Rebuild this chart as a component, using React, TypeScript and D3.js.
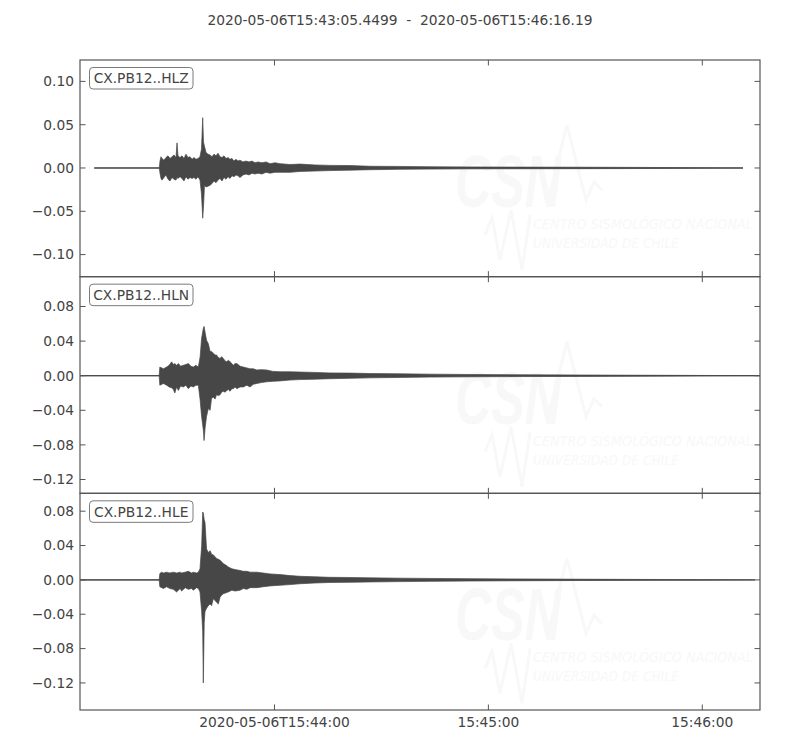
import React from 'react';
import * as d3 from 'd3';

// ---- data (seconds after 2020-05-06T15:43:05.4499) ----
const START_ISO = '2020-05-06T15:43:05.4499Z';
const END_ISO = '2020-05-06T15:46:16.19Z';
const TITLE = '2020-05-06T15:43:05.4499  -  2020-05-06T15:46:16.19';
const CHANNELS = ['CX.PB12..HLZ', 'CX.PB12..HLN', 'CX.PB12..HLE'];
const Y_LIMITS: [number, number][] = [[-0.1255, 0.1247], [-0.136, 0.1145], [-0.1515, 0.1008]];
const Y_TICKS = [
  [-0.1, -0.05, 0, 0.05, 0.1],
  [-0.12, -0.08, -0.04, 0, 0.04, 0.08],
  [-0.12, -0.08, -0.04, 0, 0.04, 0.08],
];

// HLZ envelope (max / min per time)
const hlzTime = [4.01, 22.24, 22.44, 22.72, 23.0, 23.56, 24.12, 24.68, 25.25, 25.81, 26.37, 26.93, 27.21, 27.49, 28.05, 28.61, 29.17, 29.73, 30.29, 30.86, 31.42, 31.98, 32.54, 33.1, 33.66, 34.08, 34.42, 34.64, 34.92, 35.34, 35.9, 36.47, 37.03, 37.59, 38.15, 38.71, 39.27, 39.83, 40.39, 40.95, 41.51, 42.08, 42.64, 43.2, 43.76, 44.32, 44.88, 45.72, 46.56, 47.41, 48.25, 49.09, 49.93, 51.05, 52.17, 53.3, 54.7, 56.1, 58.91, 61.71, 65.92, 70.13, 75.74, 81.35, 89.76, 98.18, 109.4, 123.42, 140.25, 159.89, 173.91, 185.97];
const hlzMax = [0, 0, 0.008, 0.013, 0.011, 0.009, 0.012, 0.014, 0.011, 0.013, 0.015, 0.012, 0.029, 0.014, 0.012, 0.014, 0.011, 0.016, 0.012, 0.013, 0.010, 0.012, 0.010, 0.011, 0.013, 0.022, 0.058, 0.030, 0.025, 0.018, 0.016, 0.015, 0.013, 0.016, 0.014, 0.017, 0.013, 0.012, 0.014, 0.011, 0.012, 0.010, 0.011, 0.008, 0.010, 0.008, 0.009, 0.007, 0.008, 0.007, 0.008, 0.006, 0.007, 0.006, 0.007, 0.005, 0.006, 0.005, 0.004, 0.0045, 0.0035, 0.003, 0.0028, 0.002, 0.0018, 0.0014, 0.0012, 0.001, 0.0009, 0.0006, 0.0003, 0];
const hlzMin = [0, 0, -0.006, -0.012, -0.014, -0.011, -0.008, -0.013, -0.015, -0.011, -0.013, -0.014, -0.011, -0.012, -0.010, -0.012, -0.015, -0.010, -0.013, -0.011, -0.012, -0.011, -0.013, -0.010, -0.014, -0.030, -0.058, -0.045, -0.020, -0.022, -0.021, -0.020, -0.018, -0.015, -0.017, -0.014, -0.012, -0.015, -0.011, -0.013, -0.010, -0.012, -0.009, -0.010, -0.008, -0.009, -0.011, -0.008, -0.007, -0.008, -0.006, -0.007, -0.006, -0.007, -0.005, -0.006, -0.005, -0.005, -0.005, -0.004, -0.0035, -0.003, -0.0025, -0.002, -0.0015, -0.0013, -0.001, -0.0009, -0.0008, -0.0006, -0.0003, 0];

// HLN envelope
const hlnTime = [0, 22.2, 22.4, 23.4, 24.3, 25.0, 25.7, 26.2, 26.6, 27.1, 27.6, 28.2, 29.0, 29.7, 30.4, 31.1, 31.8, 32.5, 33.2, 33.7, 34.1, 34.6, 34.8, 35.1, 35.5, 36.0, 36.5, 36.9, 37.4, 37.9, 38.3, 38.8, 39.3, 39.7, 40.2, 40.7, 41.2, 41.6, 42.1, 42.6, 43.0, 43.5, 44.0, 44.9, 45.8, 46.8, 47.7, 48.6, 49.6, 50.8, 52.4, 54.1, 56.1, 58.9, 61.7, 65.9, 70.1, 75.7, 81.3, 89.8, 98.2, 109.4, 123.4, 140.3, 159.9, 173.9, 190.7];
const hlnMax = [0, 0, 0.010, 0.008, 0.010, 0.012, 0.016, 0.013, 0.014, 0.012, 0.014, 0.011, 0.012, 0.013, 0.014, 0.011, 0.010, 0.012, 0.010, 0.022, 0.043, 0.055, 0.057, 0.050, 0.041, 0.037, 0.028, 0.028, 0.026, 0.024, 0.024, 0.021, 0.020, 0.022, 0.020, 0.017, 0.016, 0.018, 0.016, 0.014, 0.012, 0.014, 0.014, 0.011, 0.010, 0.009, 0.008, 0.008, 0.0066, 0.007, 0.0066, 0.005, 0.0046, 0.0045, 0.0042, 0.0038, 0.0032, 0.003, 0.0025, 0.0022, 0.0018, 0.0014, 0.0011, 0.0008, 0.0005, 0.0003, 0];
const hlnMin = [0, 0, -0.011, -0.009, -0.011, -0.013, -0.014, -0.016, -0.020, -0.013, -0.017, -0.012, -0.013, -0.011, -0.015, -0.012, -0.013, -0.011, -0.011, -0.028, -0.047, -0.063, -0.075, -0.060, -0.047, -0.038, -0.040, -0.026, -0.025, -0.027, -0.022, -0.023, -0.022, -0.019, -0.018, -0.019, -0.017, -0.016, -0.018, -0.015, -0.015, -0.013, -0.015, -0.013, -0.013, -0.011, -0.013, -0.010, -0.009, -0.008, -0.007, -0.0065, -0.006, -0.005, -0.0045, -0.004, -0.0035, -0.003, -0.0025, -0.002, -0.0016, -0.0013, -0.001, -0.0008, -0.0005, -0.0003, 0];

// HLE envelope
const hleTime = [0, 22.2, 22.4, 22.9, 23.4, 24.3, 25.2, 26.2, 27.1, 28.1, 28.5, 29.5, 30.4, 31.3, 31.8, 32.7, 33.2, 33.66, 34.13, 34.42, 34.59, 34.84, 35.06, 35.5, 36.0, 36.5, 36.9, 37.4, 37.9, 38.3, 38.8, 39.3, 39.7, 40.2, 41.0, 41.6, 42.6, 43.5, 44.9, 45.8, 46.8, 47.7, 49.6, 51.4, 53.3, 56.1, 58.9, 61.7, 65.9, 70.1, 75.7, 81.3, 89.8, 98.2, 109.4, 123.4, 140.3, 159.9, 173.9, 189.3];
const hleMax = [0, 0, 0.0074, 0.009, 0.008, 0.009, 0.008, 0.009, 0.008, 0.009, 0.008, 0.009, 0.010, 0.008, 0.009, 0.008, 0.009, 0.013, 0.040, 0.079, 0.078, 0.070, 0.067, 0.036, 0.032, 0.034, 0.030, 0.029, 0.027, 0.025, 0.024, 0.023, 0.021, 0.019, 0.017, 0.015, 0.013, 0.012, 0.011, 0.010, 0.010, 0.009, 0.009, 0.008, 0.007, 0.0062, 0.005, 0.0042, 0.0036, 0.003, 0.0028, 0.0024, 0.002, 0.0017, 0.0014, 0.0011, 0.0008, 0.0005, 0.0003, 0];
const hleMin = [0, 0, -0.008, -0.009, -0.010, -0.008, -0.010, -0.011, -0.014, -0.010, -0.013, -0.009, -0.011, -0.010, -0.012, -0.009, -0.010, -0.014, -0.037, -0.060, -0.120, -0.050, -0.037, -0.033, -0.030, -0.028, -0.030, -0.022, -0.024, -0.026, -0.028, -0.020, -0.018, -0.016, -0.015, -0.014, -0.012, -0.013, -0.012, -0.010, -0.011, -0.009, -0.009, -0.008, -0.007, -0.0062, -0.0055, -0.0045, -0.0036, -0.003, -0.0028, -0.0024, -0.002, -0.0017, -0.0013, -0.001, -0.0007, -0.0005, -0.0003, 0];

const TRACES = [
  { time: hlzTime, max: hlzMax, min: hlzMin },
  { time: hlnTime, max: hlnMax, min: hlnMin },
  { time: hleTime, max: hleMax, min: hleMin },
];

const FONT = 'DejaVu Sans, sans-serif';
const TEXT = '#444444';
const SPINE = '#555555';
const TRACE = '#474747';
const WM = '#f8f8f8';

const LEFT = 80;
const RIGHT = 760;
const TOP = 60;
const BOTTOM = 710;
const TICK = 5.5;

function fmtY(v: number) {
  const s = Math.abs(v).toFixed(2);
  return v < -1e-9 ? '\u2212' + s : s;
}

export default function App() {
  const startMs = Date.parse(START_ISO);
  const x = d3.scaleUtc().domain([new Date(startMs), new Date(Date.parse(END_ISO))]).range([LEFT, RIGHT]);
  const xTicks = x.ticks(d3.utcMinute.every(1) as any);
  const fmtFirst = d3.utcFormat('%Y-%m-%dT%H:%M:%S');
  const fmtRest = d3.utcFormat('%H:%M:%S');
  const panelH = (BOTTOM - TOP) / 3;

  return (
    <svg width={800} height={750} style={{ display: 'block', position: 'absolute', left: 0, top: 0 }} fontFamily={FONT}>
      <rect x={0} y={0} width={800} height={750} fill="#ffffff" />
      <text x={400} y={25} textAnchor="middle" fontSize={13.8} fill={TEXT} style={{ whiteSpace: 'pre' }}>{TITLE}</text>
      {TRACES.map((tr, i) => {
        const top = TOP + i * panelH;
        const bottom = top + panelH;
        const y = d3.scaleLinear().domain(Y_LIMITS[i]).range([bottom, top]);
        const dates = tr.time.map((t) => new Date(startMs + t * 1000));
        const area = d3.area<number>()
          .x((_, j) => x(dates[j]))
          .y0((_, j) => y(tr.min[j]))
          .y1((_, j) => y(tr.max[j]));
        const idx = tr.time.map((_, j) => j);
        const y0 = y(0);
        const clipId = `clip${i}`;
        return (
          <g key={i}>
            <defs>
              <clipPath id={clipId}>
                <rect x={LEFT} y={top} width={RIGHT - LEFT} height={panelH} />
              </clipPath>
            </defs>
            {/* faint watermark */}
            <g fill={WM} stroke="none">
              <text x={455} y={top + 147} fontSize={74} fontWeight="bold" fontStyle="italic" textLength={106} lengthAdjust="spacingAndGlyphs" fontFamily="Liberation Sans, sans-serif">CSN</text>
              <polyline points={`${548},${top + 140} ${567},${top + 65} ${586},${top + 140} ${594},${top + 122} ${602},${top + 130}`} fill="none" stroke={WM} strokeWidth={3} />
              <polyline points={`${485},${top + 175} ${492},${top + 158} ${500},${top + 200} ${511},${top + 150} ${522},${top + 210} ${530},${top + 155}`} fill="none" stroke={WM} strokeWidth={3} />
              <text x={533} y={top + 169} fontSize={14} fontStyle="italic" textLength={220} lengthAdjust="spacingAndGlyphs">CENTRO SISMOLÓGICO NACIONAL</text>
              <text x={533} y={top + 188} fontSize={14} fontStyle="italic" textLength={146} lengthAdjust="spacingAndGlyphs">UNIVERSIDAD DE CHILE</text>
            </g>
            <g clipPath={`url(#${clipId})`}>
              <line x1={x(dates[0])} x2={x(dates[dates.length - 1])} y1={y0} y2={y0} stroke={TRACE} strokeWidth={1} />
              <path d={area(idx) || ''} fill={TRACE} stroke={TRACE} strokeWidth={0.7} strokeLinejoin="round" />
            </g>
            {/* y ticks both sides, inward */}
            {Y_TICKS[i].map((v) => (
              <g key={v}>
                <line x1={LEFT} x2={LEFT + TICK} y1={y(v)} y2={y(v)} stroke={SPINE} strokeWidth={1} />
                <line x1={RIGHT - TICK} x2={RIGHT} y1={y(v)} y2={y(v)} stroke={SPINE} strokeWidth={1} />
                <text x={LEFT - 6} y={y(v)} dy="0.35em" textAnchor="end" fontSize={13.8} fill={TEXT}>{fmtY(v)}</text>
              </g>
            ))}
            {/* x ticks top & bottom inward */}
            {xTicks.map((d) => (
              <g key={+d}>
                <line x1={x(d)} x2={x(d)} y1={top} y2={top + TICK} stroke={SPINE} strokeWidth={1} />
                <line x1={x(d)} x2={x(d)} y1={bottom - TICK} y2={bottom} stroke={SPINE} strokeWidth={1} />
              </g>
            ))}
            <rect x={LEFT} y={top} width={RIGHT - LEFT} height={panelH} fill="none" stroke={SPINE} strokeWidth={1.2} />
            {/* channel label box */}
            <rect x={89.5} y={top + 7.5} width={103.5} height={21.5} rx={3.5} fill="#ffffff" stroke="#7a7a7a" strokeWidth={1} />
            <text x={141.2} y={top + 18.4} dy="0.36em" textAnchor="middle" fontSize={13.8} fill={TEXT}>{CHANNELS[i]}</text>
          </g>
        );
      })}
      {xTicks.map((d, k) => (
        <text key={+d} x={x(d)} y={727} textAnchor="middle" fontSize={13.8} fill={TEXT}>{k === 0 ? fmtFirst(d) : fmtRest(d)}</text>
      ))}
    </svg>
  );
}
